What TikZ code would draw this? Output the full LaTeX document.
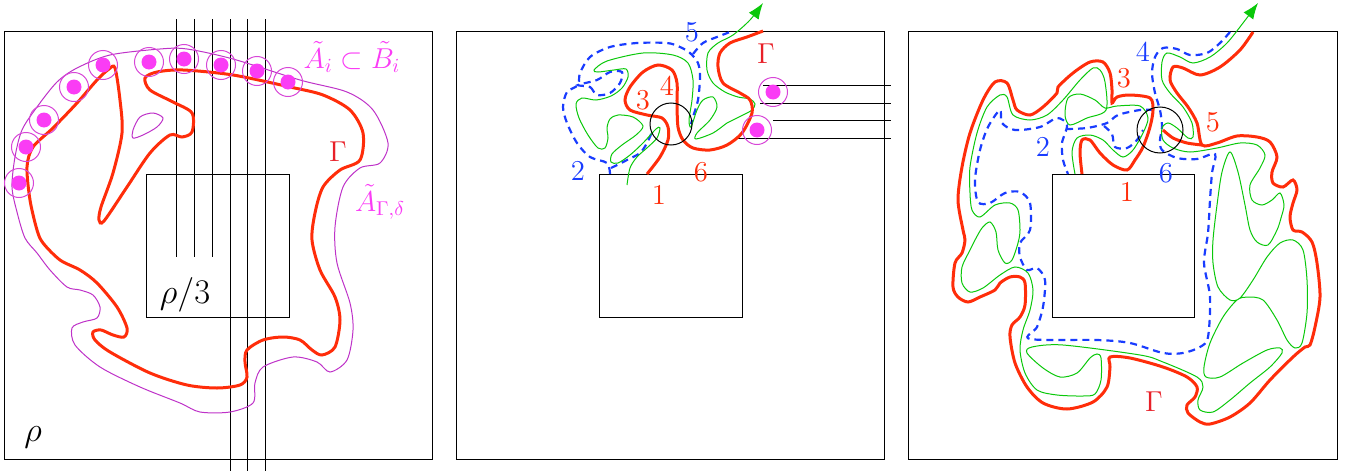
\documentclass[tikz,border=0pt]{standalone}
\usepackage{amsmath,amssymb}
\usepackage{xcolor}
\usepackage{tikz}
\usetikzlibrary{arrows.meta}

\definecolor{gred}{RGB}{255,45,10}
\definecolor{glabel}{RGB}{232,32,40}
\definecolor{ggreen}{RGB}{10,200,10}
\definecolor{gblue}{RGB}{25,60,255}
\definecolor{dotm}{RGB}{250,60,245}
\definecolor{ringm}{RGB}{215,70,215}
\definecolor{tubem}{RGB}{190,50,200}

\begin{document}
\begin{tikzpicture}[
    x=0.5pt, y=-0.5pt,
    frame/.style={draw, line width=0.5pt},
    gammaline/.style={draw=gred, line width=1.5pt},
    tubeline/.style={draw=tubem, line width=0.5pt},
    greenline/.style={draw=ggreen, line width=0.5pt},
    blueline/.style={draw=gblue, line width=1.1pt, dash pattern=on 3.5pt off 2.5pt},
    ball/.style={circle, fill=dotm, inner sep=0pt, minimum size=7.5pt},
    ring/.style={circle, draw=ringm, line width=0.5pt, inner sep=0pt, minimum size=14.5pt},
    probe/.style={circle, draw, line width=0.5pt, inner sep=0pt},
    rlab/.style={text=gred, font=\Large},
    blab/.style={text=gblue, font=\Large},
    flow/.style={-{Latex[length=8pt,width=6pt]}}
  ]
    \useasboundingbox (0,0) rectangle (1354,471);

    % ---- panel 1 ----
    \draw[frame] (4,31) rectangle (432,459);
    \draw[frame] (146,174) rectangle (289,317);
    \draw[frame] (176,19) -- (176,257);
    \draw[frame] (194,19) -- (194,257);
    \draw[frame] (212,19) -- (212,257);
    \draw[frame] (230,19) -- (230,471);
    \draw[frame] (247,19) -- (247,471);
    \draw[frame] (265,19) -- (265,471);

    \draw[tubeline] plot[smooth cycle] coordinates {
      (12,187) (15,157) (22,130) (37,107) (57,82) (77,68) (110,55) (160,49)
      (187,49) (233,59) (300,80) (347,92) (373,110) (388,143) (380,163)
      (360,168) (343,187) (335,227) (337,263) (350,303) (353,330) (347,360)
      (330,372) (317,362) (293,357) (263,367) (255,383) (253,403) (230,412)
      (200,412) (180,403) (140,387) (100,367) (75,345) (72,328) (83,322)
      (97,318) (100,307) (93,295) (80,290) (67,287) (50,270) (37,253)
      (25,238) (17,212)};
    \draw[tubeline] plot[smooth cycle] coordinates {
      (133,130) (140,117) (153,113) (163,118) (157,127) (143,135) (133,138)};

    \draw[gammaline] plot[smooth cycle, tension=0.5] coordinates {
      (115,68) (120,100) (122,133) (113,173) (101,207) (99,220) (104,221)
      (127,187) (150,153) (170,135) (182,137) (192,132) (192,113) (173,102)
      (150,90) (145,78) (157,72) (183,70) (233,75) (290,87) (323,95)
      (350,110) (363,133) (360,160) (340,170) (323,187) (315,213) (312,240)
      (320,270) (335,297) (340,320) (335,347) (322,355) (312,350) (300,340)
      (283,337) (263,340) (247,350) (245,362) (247,377) (240,385) (217,388)
      (187,385) (150,373) (110,352) (95,340) (93,332) (101,330) (113,335)
      (124,337) (127,328) (117,307) (97,283) (80,270) (60,260) (43,243)
      (37,230) (30,200) (27,167) (33,147) (53,128) (77,103) (97,80) (109,69)};

    \node[ball] (a1) at (19,183) {};   \node[ring] (r1) at (a1) {};
    \node[ball] (a2) at (26,147) {};   \node[ring] (r2) at (a2) {};
    \node[ball] (a3) at (44,120) {};   \node[ring] (r3) at (a3) {};
    \node[ball] (a4) at (74,87) {};    \node[ring] (r4) at (a4) {};
    \node[ball] (a5) at (103,65) {};   \node[ring] (r5) at (a5) {};
    \node[ball] (a6) at (149,62) {};   \node[ring] (r6) at (a6) {};
    \node[ball] (a7) at (184,59) {};   \node[ring] (r7) at (a7) {};
    \node[ball] (a8) at (221,65) {};   \node[ring] (r8) at (a8) {};
    \node[ball] (a9) at (257,71) {};   \node[ring] (r9) at (a9) {};
    \node[ball] (a10) at (288,82) {};  \node[ring] (r10) at (a10) {};

    \node[text=dotm, font=\Large] (cover) at (352,57) {$\tilde A_i\subset\tilde B_i$};
    \node[text=glabel, font=\Large] (gam1) at (338,152) {$\Gamma$};
    \node[text=dotm, font=\Large] (tube) at (380,202) {$\tilde A_{\Gamma,\delta}$};
    \node[font=\LARGE] (third) at (185,295) {$\rho/3$};
    \node[font=\LARGE] (rho) at (33,437) {$\rho$};

    % ---- panel 2 ----
    \draw[frame] (456,31) rectangle (884,459);
    \draw[frame] (599,174) rectangle (742,317);
    \draw[frame] (763,85) -- (891,85);
    \draw[frame] (760,103) -- (891,103);
    \draw[frame] (773,120) -- (891,120);
    \draw[frame] (737,138) -- (891,138);

    \draw[blueline] plot[smooth] coordinates {
      (610,174) (607,163) (590,157) (577,143) (567,123) (563,107) (567,92)
      (578,85) (580,73) (590,57) (610,47) (637,43) (667,43) (680,47)
      (690,53) (698,63) (700,77) (698,100) (693,117) (691,124)};
    \draw[blueline] plot[smooth cycle] coordinates {
      (578,85) (590,87) (597,95) (610,93) (620,83) (622,72) (610,72) (597,80)};
    \draw[blueline] plot[smooth] coordinates {
      (611,168) (627,160) (640,153) (647,143) (652,132)};
    \draw[blueline] plot[smooth] coordinates {
      (693,54) (703,43) (717,37) (730,32)};

    \draw[greenline, flow] plot[smooth] coordinates {
      (627,185) (630,168) (637,157) (648,147) (657,138) (660,128) (656,129)
      (643,143) (630,155) (618,163) (611,162) (612,154) (622,145) (636,135)
      (643,126) (633,117) (618,115) (610,119) (607,128) (608,138) (605,148)
      (598,148) (588,135) (579,118) (576,104) (582,98) (596,100) (611,96)
      (622,88) (628,77) (626,69) (614,70) (598,72) (594,70) (607,61)
      (643,53) (673,55) (688,63) (693,80) (692,100) (689,120) (691,127)
      (697,110) (703,100) (713,97) (717,107) (710,120) (697,133) (696,139)
      (713,133) (727,123) (733,120) (743,115) (752,110) (755,104) (750,99)
      (738,97) (725,92) (713,83) (707,70) (708,53) (718,43) (733,35)
      (750,20) (763,3)};

    \draw[gammaline] plot[smooth] coordinates {
      (647,174) (660,157) (668,140) (668,127) (662,118) (647,115) (630,110)
      (625,100) (630,87) (643,72) (658,65) (672,70) (677,83) (677,103)
      (678,127) (683,140) (693,148) (710,150) (727,145) (742,133) (752,113)
      (750,100) (740,93) (723,83) (718,67) (720,53) (730,43) (747,37) (763,31)};

    \node[probe, minimum size=42pt*0.5] (disc2) at (671,124) {};
    \node[ball] (b1) at (773,92) {};  \node[ring] (s1) at (b1) {};
    \node[ball] (b2) at (757,130) {}; \node[ring] (s2) at (b2) {};

    \node[blab] (n5) at (692,32) {5};
    \node[text=glabel, font=\Large] (gam2) at (766,54) {$\Gamma$};
    \node[rlab] (n4) at (667,86) {4};
    \node[rlab] (n3) at (643,100) {3};
    \node[blab] (n2) at (578,171) {2};
    \node[rlab] (n6) at (701,172) {6};
    \node[rlab] (n1) at (659,195) {1};

    % ---- panel 3 ----
    \draw[frame] (908,31) rectangle (1337,459);
    \draw[frame] (1052,174) rectangle (1194,317);

    \draw[blueline] plot[smooth] coordinates {
      (1230,32) (1220,43) (1207,53) (1190,55) (1177,49) (1163,48) (1155,57)
      (1152,73) (1155,93) (1160,110) (1162,127) (1160,140) (1162,150)
      (1177,158) (1197,159) (1215,154) (1212,173) (1210,200) (1208,233)
      (1204,263) (1210,297) (1208,337) (1200,347) (1183,353) (1163,353)
      (1130,343) (1097,340) (1030,339) (1037,327) (1043,307) (1045,280)
      (1037,268) (1027,270) (1020,257) (1020,243) (1030,230) (1030,203)
      (1020,192) (1005,193) (990,203) (978,202) (975,180) (980,150)
      (988,127) (1000,110) (1002,123) (1015,130) (1040,127) (1057,118)
      (1067,125) (1062,143) (1063,160) (1068,174)};
    \draw[blueline] plot[smooth] coordinates {
      (1066,129) (1087,128) (1107,123) (1118,115) (1140,110) (1155,110)};
    \draw[blueline] plot[smooth] coordinates {
      (1104,126) (1112,134) (1115,147) (1127,148) (1137,140) (1143,130)};

    \draw[greenline, flow] plot[smooth] coordinates {
      (1075,174) (1072,152) (1077,138) (1090,135) (1103,140) (1113,150)
      (1123,157) (1133,150) (1143,133) (1148,118) (1140,106) (1117,106)
      (1105,108) (1095,100) (1080,94) (1068,98) (1065,115) (1070,125)
      (1087,118) (1106,110) (1105,82) (1100,70) (1093,68) (1080,80)
      (1063,100) (1047,115) (1030,120) (1013,115) (1007,97) (1000,95)
      (987,107) (977,133) (970,167) (970,193) (972,210) (980,217) (995,205)
      (1010,203) (1018,210) (1020,230) (1018,243) (1012,260) (1005,263)
      (998,250) (996,232) (990,222) (982,228) (975,240) (970,250) (962,267)
      (962,283) (970,292) (983,288) (1000,275) (1015,267) (1028,273)
      (1033,290) (1030,310) (1023,330) (1020,350) (1025,373) (1037,390)
      (1057,395) (1083,396) (1095,394) (1101,380) (1101,358) (1097,354)
      (1090,358) (1077,373) (1060,377) (1043,368) (1027,353) (1032,347)
      (1063,345) (1140,355) (1163,362) (1197,377) (1203,387) (1198,400)
      (1200,410) (1213,412) (1230,400) (1250,383) (1270,367) (1282,353)
      (1280,348) (1267,350) (1243,363) (1220,377) (1206,377) (1204,367)
      (1210,343) (1223,317) (1237,300) (1248,297) (1263,300) (1277,320)
      (1287,340) (1295,348) (1302,343) (1307,313) (1307,280) (1303,250)
      (1293,240) (1280,243) (1267,257) (1253,280) (1240,298) (1230,300)
      (1218,287) (1213,263) (1213,240) (1217,205) (1222,172) (1230,152)
      (1238,172) (1245,205) (1250,230) (1257,242) (1268,245) (1277,230)
      (1281,218) (1284,205) (1280,193) (1272,200) (1262,205) (1252,200)
      (1250,185) (1260,168) (1265,155) (1257,145) (1240,143) (1217,148)
      (1190,152) (1173,148) (1163,140) (1162,128) (1168,123) (1177,128)
      (1188,138) (1193,137) (1192,123) (1183,107) (1170,93) (1162,80)
      (1162,62) (1167,53) (1180,57) (1193,63) (1210,57) (1227,43)
      (1243,23) (1258,3)};

    \draw[gammaline] plot[smooth, tension=0.5] coordinates {
      (1253,32) (1240,50) (1220,67) (1200,75) (1183,68) (1173,67) (1170,80)
      (1177,93) (1188,107) (1197,123) (1202,145) (1217,143) (1237,136)
      (1257,137) (1270,142) (1277,157) (1272,172) (1273,183) (1283,187)
      (1293,180) (1297,190) (1293,203) (1290,217) (1293,230) (1302,232)
      (1312,242) (1317,263) (1320,297) (1315,327) (1310,345) (1305,347)
      (1293,357) (1270,380) (1250,403) (1230,417) (1210,424) (1200,422)
      (1188,413) (1187,405) (1195,397) (1197,387) (1187,377) (1163,367)
      (1130,358) (1110,357) (1110,367) (1107,387) (1093,402) (1067,409)
      (1043,403) (1027,387) (1015,363) (1010,337) (1012,325) (1020,317)
      (1025,305) (1025,283) (1020,277) (1010,277) (1000,283) (995,290)
      (980,297) (968,302) (958,297) (953,287) (955,263) (962,253) (965,240)
      (963,230) (958,200) (962,167) (970,133) (983,100) (995,82) (1007,83)
      (1013,100) (1017,110) (1030,115) (1043,107) (1057,93) (1058,87)
      (1073,73) (1090,62) (1103,62) (1110,73) (1112,90) (1112,103)
      (1117,97) (1130,95) (1150,98) (1153,110) (1150,127) (1143,147)
      (1135,160) (1127,170) (1113,165) (1100,153) (1090,140) (1082,140)
      (1080,153) (1082,174)};
    \draw[gammaline] plot[smooth] coordinates {
      (1163,130) (1173,138) (1187,143) (1202,145)};

    \node[probe, minimum size=46pt*0.5] (disc3) at (1160,130) {};

    \node[blab] (m4) at (1143,52) {4};
    \node[rlab] (m3) at (1124,78) {3};
    \node[rlab] (m5) at (1213,122) {5};
    \node[blab] (m2) at (1043,147) {2};
    \node[blab] (m6) at (1166,173) {6};
    \node[rlab] (m1) at (1127,192) {1};
    \node[text=glabel, font=\Large] (gam3) at (1154,402) {$\Gamma$};
  \end{tikzpicture}
\end{document}
